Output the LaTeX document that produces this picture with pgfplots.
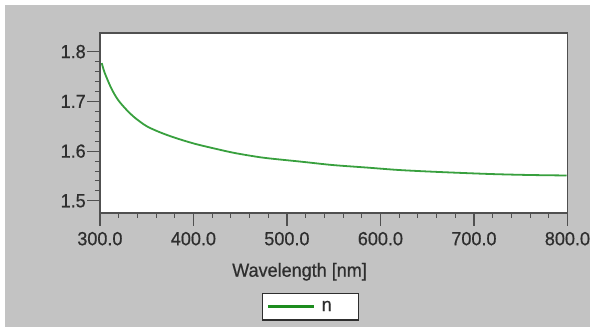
\documentclass[border=0pt]{standalone}
\usepackage{fontspec}
\setmainfont{Liberation Sans}[FakeStretch=0.95, FakeBold=0.6]
\usepackage{pgfplots}
\pgfplotsset{compat=1.18}
\definecolor{bggray}{HTML}{C3C3C3}
\definecolor{axgray}{HTML}{505050}
\definecolor{txtgray}{HTML}{2E2E2E}
\definecolor{curvegreen}{RGB}{56,160,62}
\definecolor{leggreen}{RGB}{28,140,30}
\begin{document}
\begin{tikzpicture}
\fill[white] (-100pt,-114pt) rectangle (491pt,213pt);
\fill[bggray] (-95pt,-114pt) rectangle (491pt,208pt);
\begin{axis}[
  at={(0pt,0pt)}, anchor=south west,
  scale only axis, width=468pt, height=180pt,
  xmin=300, xmax=800, ymin=1.476, ymax=1.8375,
  axis background/.style={fill=white},
  axis line style={axgray, line width=1.6pt},
  tick align=outside, tick pos=left,
  xtick={300,400,...,800}, ytick={1.5,1.6,1.7,1.8},
  minor x tick num=4, minor y tick num=4,
  major tick length=13pt, minor tick length=5pt,
  every tick/.style={axgray, line width=1.2pt},
  every minor tick/.style={axgray, line width=1.0pt},
  /pgf/number format/assume math mode=true,
  xticklabel style={/pgf/number format/.cd, fixed, fixed zerofill, precision=1, /tikz/.cd, font=\fontsize{19}{21}\selectfont, text=txtgray, inner sep=1pt, yshift=-5pt},
  yticklabel style={/pgf/number format/.cd, fixed, fixed zerofill, precision=1, /tikz/.cd, font=\fontsize{19}{21}\selectfont, text=txtgray, inner sep=1pt},
  xlabel={Wavelength [nm]},
  xlabel style={at={(axis description cs:0.427,0)}, anchor=north, yshift=-50pt, inner sep=0pt, font=\fontsize{19}{21}\selectfont, text=txtgray},
  legend style={at={(axis description cs:0.451,0)}, anchor=north, yshift=-80pt, draw=txtgray, line width=1.2pt, fill=white, inner xsep=4pt, inner ysep=5.5pt, font=\fontsize{19}{21}\selectfont, text=txtgray},
  legend image code/.code={\draw[leggreen, line width=3pt] (0pt,0pt) -- (46pt,0pt);},
]
\addplot[curvegreen, line width=1.8pt, smooth] coordinates {
(302,1.777) (305,1.758) (312,1.727) (319,1.704) (327,1.686) (335,1.671)
(343,1.659) (351,1.649) (364,1.638) (380,1.627) (401,1.615) (423,1.605)
(442,1.597) (460,1.591) (478,1.586) (514,1.579) (549,1.572) (585,1.567)
(620,1.562) (663,1.558) (717,1.554) (759,1.552) (799,1.551)};
\addlegendentry{\hspace*{4pt}n\hspace*{21pt}}
\end{axis}
\end{tikzpicture}
\end{document}
